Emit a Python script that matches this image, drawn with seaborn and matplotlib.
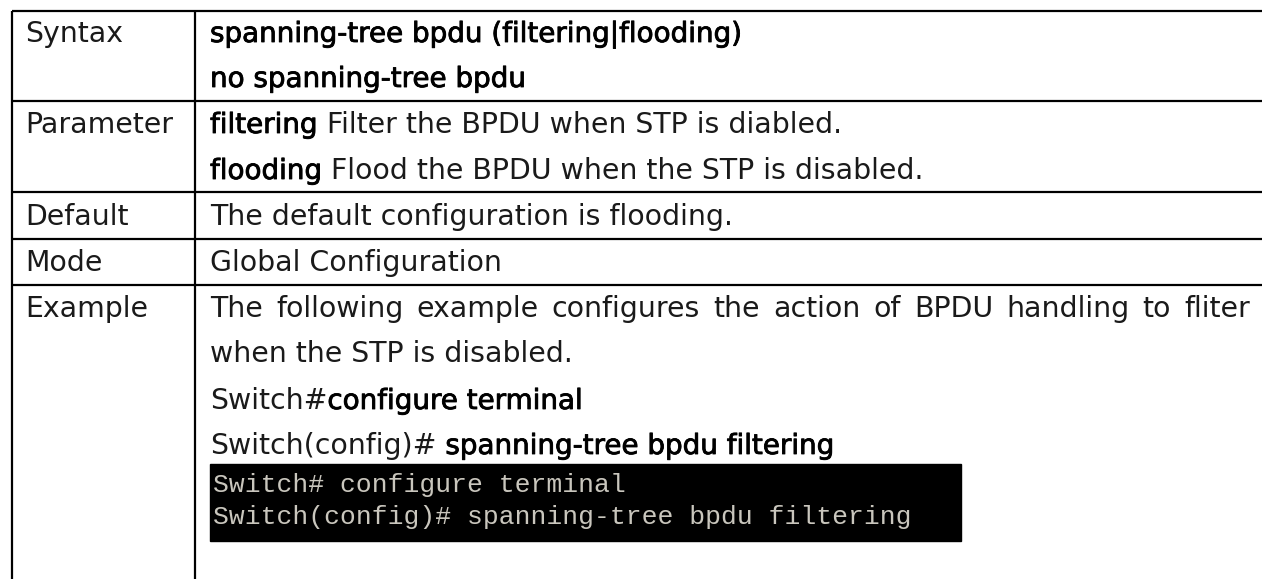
import matplotlib
matplotlib.use("Agg")
import matplotlib.pyplot as plt
import matplotlib.patheffects as pe
import seaborn as sns
from matplotlib.patches import Rectangle

sns.set_theme(style="white")
plt.rcParams["font.family"] = ["DejaVu Sans"]

# ---------------- content ----------------
row_labels = ["Syntax", "Parameter", "Default", "Mode", "Example"]
label_baselines = [42, 133, 225, 271, 317]
row_lines = [11, 101, 192, 239, 285]

content_lines = [
    [("spanning-tree bpdu (filtering|flooding)", "bold")],
    [("no spanning-tree bpdu", "bold")],
    [("filtering", "bold"), (" Filter the BPDU when STP is diabled.", "normal")],
    [("flooding", "bold"), (" Flood the BPDU when the STP is disabled.", "normal")],
    [("The default configuration is flooding.", "normal")],
    [("Global Configuration", "normal")],
    [("The following example configures the action of BPDU handling to fliter", "normal")],
    [("when the STP is disabled.", "normal")],
    [("Switch#", "normal"), ("configure terminal", "bold")],
    [("Switch(config)#", "normal"), (" spanning-tree bpdu filtering", "bold")],
]
content_baselines = [42, 87, 133, 179, 225, 271, 317, 362, 409, 454]
justified = [False, False, False, False, False, False, True, False, False, False]

terminal_lines = ["Switch# configure terminal",
                  "Switch(config)# spanning-tree bpdu filtering"]
terminal_baselines = [492, 524]

# ---------------- layout ----------------
W, H = 1262, 579
fig = plt.figure(figsize=(W / 100, H / 100), dpi=100)
ax = fig.add_axes([0, 0, 1, 1])
ax.set_xlim(0, W)
ax.set_ylim(H, 0)
ax.axis("off")

LEFT, MID, RIGHT = 12, 195, W
FS_N = 20.4
FS_B = 20
lw = 1.6
NORMAL_C = "#1a1a1a"
BOLD_FX = [pe.withStroke(linewidth=0.6, foreground="black")]

# table lines
for y in row_lines:
    ax.plot([LEFT, RIGHT], [y, y], color="black", lw=lw, solid_capstyle="butt")
for x in (LEFT, MID):
    ax.plot([x, x], [row_lines[0], H], color="black", lw=lw, solid_capstyle="butt")

renderer = fig.canvas.get_renderer()


def width_of(t):
    return t.get_window_extent(renderer).width


def put(x, y, s, wt):
    if wt == "bold":
        t = ax.text(x, y, s, fontsize=FS_B, va="baseline", ha="left", color="black")
        t.set_path_effects(BOLD_FX)
    else:
        t = ax.text(x, y, s, fontsize=FS_N, va="baseline", ha="left", color=NORMAL_C)
    return t


for lab, yb in zip(row_labels, label_baselines):
    put(25, yb, lab, "normal")

sp_a = ax.text(0, 0, "a a", fontsize=FS_N)
sp_b = ax.text(0, 0, "aa", fontsize=FS_N)
SPACE = width_of(sp_a) - width_of(sp_b)
sp_a.remove()
sp_b.remove()

TX = 210
for segs, yb, just in zip(content_lines, content_baselines, justified):
    if just:
        words = segs[0][0].split(" ")
        texts = [put(TX, yb, w, segs[0][1]) for w in words]
        widths = [width_of(t) for t in texts]
        gap = (1250 - TX - sum(widths)) / (len(words) - 1)
        x = TX
        for t, w in zip(texts, widths):
            t.set_x(x)
            x += w + gap
    else:
        x = TX
        for s, wt in segs:
            lead = len(s) - len(s.lstrip(" "))
            x += SPACE * lead
            t = put(x, yb, s.lstrip(" "), wt)
            x += width_of(t)

# terminal screenshot block
ax.add_patch(Rectangle((210, 464), 751, 77, color="black", zorder=2))
for s, yb in zip(terminal_lines, terminal_baselines):
    ax.text(213, yb, s, fontsize=19, family="Liberation Mono", va="baseline",
            ha="left", color="#c9c6bd", zorder=3)

fig.savefig("out.png", dpi=100)
